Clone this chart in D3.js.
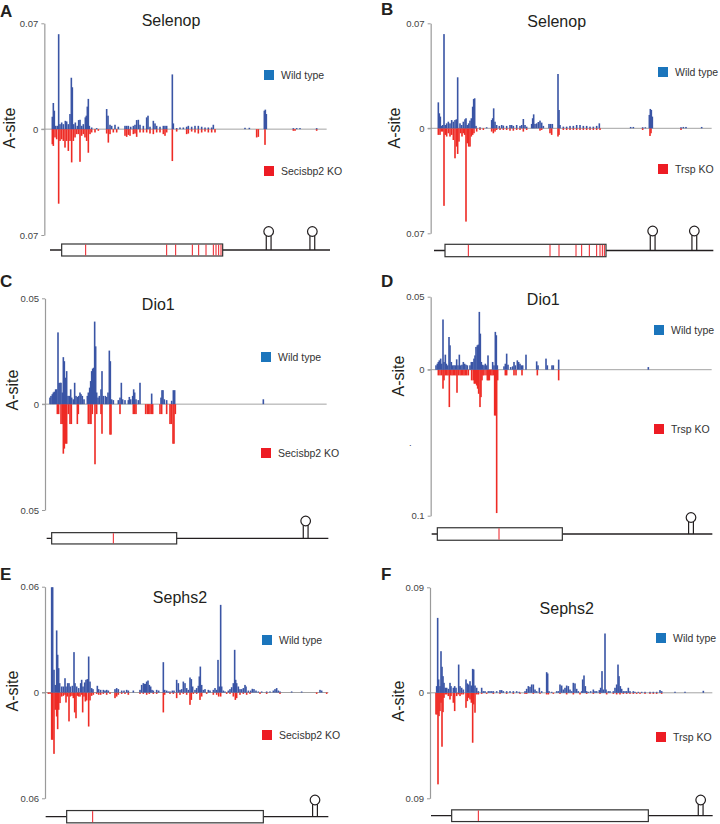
<!DOCTYPE html>
<html><head><meta charset="utf-8">
<script src="https://cdn.jsdelivr.net/npm/d3@7"></script>
<style>body{margin:0;background:#fff} svg{display:block;font-family:"Liberation Sans",Arial,Helvetica,sans-serif}</style>
</head><body><svg id="c" width="720" height="824"></svg>
<script>
// ---- Data: [position along transcript (a.u.), A-site value x 1e-3] ----
const A_WT = [[157,8.2],[160,17.3],[163,12.2],[167,2.2],[172,2.2],[176,62.8],[180,3.3],[185,4.4],[190,3.3],[196,5.5],[200,5.1],[205,3.3],[210,10],[214,34],[217,27.7],[221,3.3],[226,4.4],[232,2.2],[236,6],[240,6.2],[245,2.2],[250,3.3],[256,7.8],[259,8.9],[262,14.9],[265,20],[268,2.2],[275,1.1],[290,0.7],[320,13.3],[324,8.9],[330,2.9],[335,2.2],[345,2.9],[355,1.6],[375,2.2],[380,2.2],[385,2.2],[392,1.6],[400,2.2],[405,2.9],[410,6],[415,6.2],[420,2.9],[430,2.2],[440,7.8],[444,8.9],[450,1.6],[460,5.5],[465,3.8],[470,2.2],[480,1.6],[490,2.2],[495,2.2],[500,2.2],[517,36.2],[520,3.8],[530,0.7],[540,1.1],[550,1.1],[560,1.6],[565,2.2],[575,1.6],[585,2.2],[595,2.2],[605,1.6],[615,1.1],[625,1.1],[635,1.1],[640,2.9],[735,0.9],[748,0.9],[793,12.2],[796,12.9],[799,10],[880,0.5],[890,0.7],[900,0.7],[950,0.5]];
const A_KO = [[157,10],[160,11.1],[165,5.5],[170,6.7],[176,49.3],[180,7.8],[185,6.7],[190,7.8],[195,12.2],[200,7.8],[205,14.4],[210,7.8],[215,22],[220,7.8],[225,5.5],[230,3.3],[235,3.3],[240,21.6],[245,4.4],[250,3.3],[255,5.5],[260,7.8],[265,15.6],[270,3.3],[275,2.2],[285,2.2],[295,1.1],[320,2.9],[325,8.9],[330,3.3],[340,2.2],[350,2.2],[375,4.4],[380,5.1],[385,3.8],[390,4.4],[400,3.3],[405,2.9],[410,5.1],[420,2.2],[430,2.2],[440,2.2],[450,2.9],[460,3.3],[470,2.2],[480,2.2],[490,3.3],[495,4.4],[500,2.2],[517,21.1],[530,1.6],[560,3.3],[565,2.9],[575,1.6],[585,2.2],[595,2.9],[605,2.2],[615,1.6],[625,2.2],[635,2.2],[645,2.2],[770,5.5],[775,5.1],[795,10.4],[880,1.1],[885,1.1],[950,1.1]];

const B_WT = [[235,17.3],[238,10],[241,7.8],[244,1.6],[248,2.2],[252,62.8],[256,2.2],[260,3.3],[265,4.4],[270,3.3],[275,5.5],[280,4.4],[285,5.5],[289,6],[293,34],[300,3.3],[305,2.2],[310,4.4],[315,6],[318,6.7],[322,2.2],[326,3.3],[330,5.1],[334,6.7],[338,14.4],[341,19.5],[344,20],[348,1.6],[360,0.5],[380,0.7],[395,5.5],[398,6.7],[401,13.3],[405,4.4],[410,2.2],[418,1.6],[425,2.2],[430,1.8],[440,1.6],[450,2.2],[455,2.2],[460,1.6],[470,2.2],[480,1.6],[485,2.2],[490,6.2],[495,2.2],[500,1.1],[515,2.9],[518,6.7],[521,9.3],[525,2.9],[530,3.3],[535,4.2],[540,5.1],[545,3.8],[550,1.6],[567,2.9],[572,2.9],[577,2.9],[594,36.2],[597,12.2],[600,2.2],[610,1.1],[620,1.1],[630,1.6],[640,1.6],[650,2.2],[660,2.2],[670,1.6],[680,1.6],[690,1.1],[700,1.1],[710,1.6],[718,3.3],[812,0.9],[820,0.9],[848,0.7],[856,0.7],[868,8.9],[871,12.9],[874,12.2],[877,7.8],[963,0.7],[970,0.9],[978,0.9],[1025,0.9]];
const B_KO = [[235,4.4],[240,4.4],[244,2.2],[248,2.2],[252,51.7],[256,4.4],[260,5.5],[265,3.3],[270,5.5],[275,4.4],[280,7.8],[285,20],[290,12.2],[293,17.1],[297,8.9],[302,3.3],[306,5.5],[310,3.3],[314,4.4],[318,62.2],[322,10],[326,12.2],[330,12.2],[334,5.5],[338,4.4],[342,3.3],[350,2.2],[360,1.1],[370,1.1],[395,2.2],[400,3.3],[405,2.2],[410,1.1],[420,1.1],[430,1.1],[440,1.1],[450,1.6],[460,1.6],[470,1.1],[480,1.1],[490,2.2],[500,1.1],[540,1.6],[545,1.1],[570,3.3],[575,4.4],[594,5.5],[597,4.4],[610,1.1],[620,1.1],[630,1.1],[640,1.1],[650,1.1],[660,1.1],[670,1.1],[680,1.1],[690,1.1],[700,1.1],[710,1.1],[720,1.1],[848,1.1],[870,5.1],[873,3.3],[963,1.1]];

const C_WT = [[150,3.1],[153,3.9],[157,4.7],[160,5.5],[163,5.9],[167,7],[170,7],[174,33.9],[177,10],[180,10.1],[183,10.1],[187,5.5],[190,22.2],[193,20.3],[197,12.5],[200,15.6],[204,3.9],[208,3.9],[212,7],[215,3.1],[220,2.3],[224,10.1],[228,3.9],[232,3.4],[236,3.9],[240,5.5],[243,4.7],[247,3.9],[252,2.3],[262,3.9],[265,5.5],[269,7.8],[272,10.9],[275,15.6],[278,16.8],[281,17.2],[284,39],[287,27.3],[290,5.5],[294,3.1],[298,3.9],[303,7],[306,15.6],[310,3.9],[316,3.9],[320,3.4],[324,5.5],[328,25.3],[331,20.3],[335,2.3],[340,1.9],[355,1.9],[360,3.1],[364,10.1],[368,2.3],[375,1.9],[385,1.9],[388,3.4],[392,2.3],[398,3.9],[401,7],[404,5.5],[408,2.3],[415,1.9],[420,10.1],[455,5],[483,3.1],[486,6.6],[489,6.6],[493,2.3],[500,1.9],[515,1.6],[520,6.6],[524,6.6],[790,2.3]];
const C_KO = [[172,4.7],[176,4.7],[183,9.4],[187,9.4],[190,23.4],[193,21],[197,18.7],[200,18.7],[205,4.7],[210,9.4],[214,9.4],[232,9.4],[235,4.7],[265,9.4],[270,9.4],[273,9.4],[277,4.7],[285,28.4],[290,4.7],[303,4.7],[306,14],[330,14.4],[333,14.4],[360,4.7],[400,4.7],[404,4.7],[408,4.7],[437,4.7],[442,4.7],[446,4.7],[450,4.7],[455,4.7],[458,4.7],[480,4.7],[485,4.7],[500,4.7],[510,9.4],[514,9.4],[519,18.7],[522,18.7],[526,4.7]];

const D_WT = [[228,3],[232,4.1],[235,5.3],[238,6.4],[242,7.6],[245,4.1],[249,34.4],[252,5.3],[256,10.3],[259,4.1],[263,3],[267,22.4],[270,16.7],[274,5.3],[278,3],[282,3],[286,3],[290,7.1],[294,3],[298,10.3],[302,3],[306,3.4],[310,5.3],[314,4.1],[318,3.4],[322,3],[330,3],[334,5.3],[338,5.3],[342,7.6],[345,9.8],[348,15.6],[352,16.7],[355,17.2],[358,39.6],[361,24.7],[364,5.3],[368,3.4],[372,3],[376,4.1],[380,3],[384,9.8],[398,5.3],[402,3],[406,25.9],[409,23.6],[412,3],[432,2.3],[436,4.1],[440,11],[444,3.4],[452,1.8],[458,2.3],[462,5.3],[466,3],[472,6.4],[476,5.3],[480,4.1],[484,3],[488,3],[498,10.3],[530,5.7],[534,3],[558,7.6],[562,3],[576,3],[580,3],[596,6.9],[865,1.8]];
const D_KO = [[235,3.9],[240,3.9],[245,3.9],[249,13],[252,7.3],[256,3.9],[260,3.9],[264,3.9],[268,25.6],[272,3.9],[276,3.9],[280,3.9],[284,3.9],[288,3.9],[291,15.8],[295,3.9],[300,3.9],[304,3.9],[308,3.9],[312,3.9],[316,3.9],[320,3.9],[325,3.9],[335,7.3],[340,7.3],[343,9.6],[346,9.6],[350,10.8],[353,13],[356,16.5],[360,25.6],[363,18.8],[366,7.3],[369,3.9],[372,3.9],[378,3.9],[382,7.3],[385,7.3],[388,7.3],[392,3.9],[396,3.9],[400,3.9],[404,31.4],[407,31.4],[410,98.2],[413,7.3],[436,3.9],[440,3.9],[462,3.9],[468,3.9],[486,3.9],[532,3.9],[596,7.3]];

const E_WT = [[155,59.7],[158,59.7],[162,12.9],[166,4.3],[170,35.2],[173,21.4],[176,13.8],[179,5.3],[185,3.4],[190,3.4],[195,8.1],[198,3.4],[203,5.3],[207,5.3],[211,3.4],[217,3.8],[222,22.9],[225,5.3],[230,3.4],[236,2.5],[242,5.3],[245,7.2],[249,3.4],[254,5.7],[258,7.2],[262,7.6],[266,20.4],[270,6.2],[275,2.5],[279,1.9],[292,3.8],[296,1.9],[302,1.5],[310,1.5],[315,1.1],[320,1.5],[325,1.1],[345,1.9],[350,2.5],[355,1.9],[365,1.1],[372,1.1],[380,1.5],[385,1.1],[400,1.1],[420,1.5],[425,4.3],[430,5.3],[433,4.9],[437,4.9],[440,6.2],[444,6.8],[448,4.3],[452,3.4],[456,1.5],[460,1.1],[470,1.5],[476,1.1],[490,17.2],[494,1.5],[500,1.1],[505,0.6],[510,0.6],[517,1.1],[522,1.1],[530,7.2],[535,5.3],[540,1.5],[545,1.9],[550,6.2],[555,5.3],[560,2.5],[565,1.5],[570,8.5],[574,7.6],[578,3.4],[585,1.5],[590,2.5],[595,3.8],[598,9.1],[601,14.7],[605,4.3],[610,1.5],[615,1.9],[625,1.5],[630,1.1],[640,1.5],[645,2.5],[650,1.5],[654,18.5],[658,3.4],[662,49.7],[665,3.4],[670,1.1],[675,0.6],[685,1.1],[690,1.9],[695,3],[700,5.3],[704,24.2],[707,7.2],[710,5.3],[715,3.4],[720,1.9],[725,1.9],[730,2.5],[735,4.3],[738,3.4],[745,1.1],[752,1.1],[757,2.1],[762,1.9],[768,1.1],[775,0.6],[785,0.6],[800,0.6],[810,0.6],[820,1.1],[825,1.9],[830,2.5],[835,1.1],[840,0.6],[875,0.6],[905,0.4],[960,1.5],[965,1.1]];
const E_KO = [[145,0.8],[150,0.8],[155,26.8],[158,26.8],[162,34.8],[166,9.8],[170,13.6],[173,20.8],[176,9.8],[180,6],[185,2.3],[190,1.9],[195,1.3],[198,5.7],[202,2.3],[207,16.4],[211,2.3],[216,1.9],[220,3.2],[224,11.3],[228,14.6],[232,1.9],[236,2.3],[240,2.3],[245,1.3],[248,11.3],[252,2.3],[256,5.1],[260,4.5],[266,19.3],[270,4.5],[275,1.9],[280,1.3],[290,0.8],[296,1.3],[302,1.3],[310,0.8],[320,1.3],[330,0.8],[345,3.2],[350,2.3],[355,1.3],[365,0.8],[375,0.8],[385,1.3],[420,0.8],[430,0.8],[440,1.3],[448,0.8],[460,0.8],[470,0.8],[490,11.3],[494,1.3],[510,0.8],[520,0.8],[530,3.2],[540,1.3],[550,0.8],[560,1.3],[570,7],[574,4.2],[580,0.8],[590,0.8],[600,4.2],[605,2.3],[620,0.8],[640,1.3],[650,1.3],[656,2.3],[662,2.3],[680,0.8],[690,0.8],[700,2.3],[706,4.2],[710,3.2],[720,1.3],[730,0.8],[740,1.3],[750,0.8],[780,0.8],[800,0.8],[840,0.8],[950,0.8],[980,0.8]];

const F_WT = [[230,5.7],[233,63.9],[236,11.4],[240,5.7],[243,35.5],[246,22.2],[249,14.2],[252,8.5],[256,4.3],[260,4.3],[265,3.4],[270,8.5],[273,5.7],[280,4.3],[284,5.7],[288,4.3],[296,24.1],[300,5.7],[305,4.3],[310,2.8],[318,11.4],[322,8],[326,7.1],[330,9.9],[334,6.2],[338,20.4],[341,19.9],[345,6.2],[350,4.3],[355,1.4],[365,4.3],[370,1.4],[375,1.4],[385,1.4],[390,1.4],[395,1.4],[400,1.4],[410,1.4],[420,2.3],[425,2.3],[430,1.4],[440,1.4],[450,1.4],[460,1.4],[470,1.4],[478,0.9],[495,1.4],[500,3.4],[505,5.7],[510,5.1],[515,7.1],[520,7.1],[525,2.8],[530,1.4],[538,4.3],[545,1.4],[560,17.6],[563,16.5],[567,1.4],[575,0.6],[590,1.4],[595,1.4],[600,7.1],[605,6.2],[610,2.8],[615,4.3],[620,6.2],[625,5.7],[630,2.8],[635,1.4],[640,8.5],[645,8],[650,3.4],[655,1.4],[665,1.4],[668,11.4],[672,14.8],[676,5.7],[680,1.4],[685,0.6],[692,1.4],[700,2.8],[705,1.4],[710,1.4],[718,2.3],[722,4.3],[726,18.5],[730,2.8],[735,50.6],[738,2.8],[745,1.4],[750,1.4],[760,1.4],[765,4.3],[770,7.1],[774,24.1],[777,14.2],[781,5.7],[785,3.4],[790,1.4],[795,1.4],[800,1.4],[805,4.3],[810,1.4],[820,1.4],[825,0.6],[835,0.6],[845,0.6],[855,0.6],[870,0.6],[880,0.6],[890,0.6],[900,2.3],[905,1.4],[945,0.9],[975,0.9],[1030,1.7]];
const F_KO = [[228,18.5],[231,18.5],[234,78.1],[237,19.9],[240,15.6],[243,8.5],[246,46],[249,16.5],[252,4.3],[256,1.4],[260,1.4],[265,2.8],[270,5.7],[273,2.8],[280,8.5],[284,15.6],[290,2.8],[295,1.4],[300,2.8],[305,1.4],[310,1.4],[318,12.8],[322,7.1],[326,4.3],[330,5.7],[334,8.5],[338,42.6],[341,9.9],[345,17],[350,1.4],[355,1.4],[365,0.9],[380,0.9],[400,0.9],[420,0.9],[440,0.9],[460,0.9],[480,0.9],[495,0.9],[500,0.9],[520,0.9],[540,0.9],[560,1.4],[565,1.4],[580,0.9],[600,0.9],[620,1.4],[640,1.4],[660,1.4],[680,0.9],[700,0.9],[720,0.9],[740,1.4],[760,0.9],[770,1.4],[780,1.4],[790,0.9],[800,0.9],[810,0.9],[820,0.9],[830,0.9],[840,0.9],[855,0.9],[870,0.9],[880,0.9],[890,0.9],[905,0.9]];

// tick values and labels
const A_TICKS = [0.07, 0, -0.07], A_LABELS = ["0.07", "0", "0.07"];
const B_TICKS = [0.07, 0, -0.07], B_LABELS = ["0.07", "0", "0.07"];
const C_TICKS = [0.05, 0, -0.05], C_LABELS = ["0.05", "0", "0.05"];
const D_TICKS = [0.05, 0, -0.05, -0.1], D_LABELS = ["0.05", "0", ".", "0.1"];
const E_TICKS = [0.06, 0, -0.06], E_LABELS = ["0.06", "0", "0.06"];
const F_TICKS = [0.09, 0, -0.09], F_LABELS = ["0.09", "0", "0.09"];

// gene models: [transcript start, CDS start, CDS end, transcript end]
const A_GENE = [150, 185, 668, 990], A_SEC = [257,500,527,577,596,618,640,648,656,663], A_SECIS = [806, 937];
const B_GENE = [222, 255, 738, 1060], B_SEC = [325,570,597,648,665,688,710,720,727,733], B_SECIS = [878, 1003];
const C_GENE = [140, 155, 530, 985], C_SEC = [340], C_SECIS = [917];
const D_GENE = [215, 232, 607, 1057], D_SEC = [417], D_SECIS = [993];
const E_GENE = [137, 200, 790, 985], E_SEC = [278], E_SECIS = [945];
const F_GENE = [213, 275, 865, 1058], F_SEC = [355], F_SECIS = [1022];

const TITLES = ["Selenop", "Selenop", "Dio1", "Dio1", "Sephs2", "Sephs2"];
const LETTERS = ["A", "B", "C", "D", "E", "F"];
const KO_NAMES = ["Secisbp2 KO", "Trsp KO", "Secisbp2 KO", "Trsp KO", "Secisbp2 KO", "Trsp KO"];

// ---- Layout ----
const panels = [
  {wt:A_WT, ko:A_KO, ticks:A_TICKS, labels:A_LABELS, gene:A_GENE, sec:A_SEC, secis:A_SECIS,
   ox:0, x0:133, x1:980, ymin:-0.07, ymax:0.07, yTop:23.3, yBot:235, title:[171,26], letter:[0,17], ylab:[15,128],
   leg:[264,70,166], geneY:250, boxH:12, loopY:231.5},
  {wt:B_WT, ko:B_KO, ticks:B_TICKS, labels:B_LABELS, gene:B_GENE, sec:B_SEC, secis:B_SECIS,
   ox:360, x0:212, x1:1055, ymin:-0.07, ymax:0.07, yTop:23.3, yBot:233.3, title:[556.7,27], letter:[381,15], ylab:[400,128],
   leg:[658,67,164], geneY:250.5, boxH:12.4, loopY:231},
  {wt:C_WT, ko:C_KO, ticks:C_TICKS, labels:C_LABELS, gene:C_GENE, sec:C_SEC, secis:C_SECIS,
   ox:0, x0:135, x1:980, ymin:-0.05, ymax:0.05, yTop:298.3, yBot:510, title:[158.3,310], letter:[0,287], ylab:[18,390],
   leg:[261,352,448], geneY:538.3, boxH:11.3, loopY:521},
  {wt:D_WT, ko:D_KO, ticks:D_TICKS, labels:D_LABELS, gene:D_GENE, sec:D_SEC, secis:D_SECIS,
   ox:360, x0:212, x1:1055, ymin:-0.1, ymax:0.05, yTop:296.7, yBot:515.7, title:[543.3,305], letter:[381,287], ylab:[404,376],
   leg:[654,325,424], geneY:534, boxH:12.5, loopY:517.5},
  {wt:E_WT, ko:E_KO, ticks:E_TICKS, labels:E_LABELS, gene:E_GENE, sec:E_SEC, secis:E_SECIS,
   ox:0, x0:135, x1:985, ymin:-0.06, ymax:0.06, yTop:586.7, yBot:798.3, title:[180,603], letter:[0,580], ylab:[18,691],
   leg:[262,635,730], geneY:816.7, boxH:12.3, loopY:800},
  {wt:F_WT, ko:F_KO, ticks:F_TICKS, labels:F_LABELS, gene:F_GENE, sec:F_SEC, secis:F_SECIS,
   ox:360, x0:210, x1:1057, ymin:-0.09, ymax:0.09, yTop:587.3, yBot:798.3, title:[566.7,614], letter:[381,580], ylab:[404,701],
   leg:[656,633,732], geneY:815.7, boxH:11.7, loopY:800}
];

const BLUE = "#3a55a5", RED = "#ee2b25", LEG_BLUE = "#1b75bc", LEG_RED = "#ed1c24";
const svg = d3.select("#c");

panels.forEach((p, i) => {
  const g = svg.append("g");
  const x = d3.scaleLinear().domain([p.x0, p.x1]).range([p.ox + p.x0 / 3, p.ox + p.x1 / 3]);
  const y = d3.scaleLinear().domain([p.ymin, p.ymax]).range([p.yBot, p.yTop]);
  const ax = x(p.x0);

  // zero line
  g.append("line").attr("x1", ax - 3).attr("x2", x(p.x1)).attr("y1", y(0)).attr("y2", y(0))
    .attr("stroke", "#a3a3a3").attr("stroke-width", 1);

  const wt = p.wt.map(d => [d[0], d[1] / 1000]);
  const ko = p.ko.map(d => [d[0], d[1] / 1000]);
  const bw = 1.6;
  g.append("g").selectAll("rect").data(ko).join("rect")
    .attr("x", d => x(d[0]) - bw / 2).attr("width", bw)
    .attr("y", y(0)).attr("height", d => Math.max(1, y(-d[1]) - y(0)))
    .attr("fill", RED);
  g.append("g").selectAll("rect").data(wt).join("rect")
    .attr("x", d => x(d[0]) - bw / 2).attr("width", bw)
    .attr("y", d => Math.min(y(d[1]), y(0) - 1)).attr("height", d => Math.max(1, y(0) - y(d[1])))
    .attr("fill", BLUE);

  // y axis
  const axis = d3.axisLeft(y).tickValues(p.ticks).tickFormat((d, k) => p.labels[k]).tickSize(3).tickSizeOuter(0).tickPadding(3);
  const ag = g.append("g").attr("transform", `translate(${ax},0)`).call(axis);
  ag.select(".domain").attr("stroke", "#9a9a9a").attr("stroke-width", 1.2);
  ag.selectAll(".tick line").attr("stroke", "#9a9a9a").attr("stroke-width", 1)
    .filter((d, k) => p.labels[k] === ".").remove();
  ag.selectAll(".tick text").attr("font-size", 9.5).attr("fill", "#444")
    .attr("font-family", '"Liberation Sans",Arial,sans-serif')
    .filter((d, k) => p.labels[k] === ".").attr("dx", -13);

  // labels
  g.append("text").attr("x", p.letter[0]).attr("y", p.letter[1]).text(LETTERS[i])
    .attr("font-size", 17).attr("font-weight", "bold").attr("fill", "#231f20");
  g.append("text").attr("x", p.title[0]).attr("y", p.title[1]).text(TITLES[i])
    .attr("text-anchor", "middle").attr("font-size", 16).attr("fill", "#231f20");
  g.append("text").attr("transform", `translate(${p.ylab[0]},${p.ylab[1]}) rotate(-90)`).text("A-site")
    .attr("text-anchor", "middle").attr("font-size", 16).attr("fill", "#231f20");

  // legend
  const lg = g.append("g");
  [[LEG_BLUE, "Wild type", p.leg[1]], [LEG_RED, KO_NAMES[i], p.leg[2]]].forEach(([c, t, yy]) => {
    lg.append("rect").attr("x", p.leg[0]).attr("y", yy).attr("width", 10).attr("height", 10).attr("fill", c);
    lg.append("text").attr("x", p.leg[0] + 17).attr("y", yy + 5).attr("dy", "0.35em").text(t)
      .attr("font-size", 10.5).attr("fill", "#333");
  });

  // gene model
  const gm = g.append("g");
  const gy = p.geneY, [t0, c0, c1, t1] = p.gene;
  gm.append("line").attr("x1", x(t0)).attr("x2", x(t1)).attr("y1", gy).attr("y2", gy)
    .attr("stroke", "#231f20").attr("stroke-width", 1.3);
  gm.append("rect").attr("x", x(c0)).attr("y", gy - p.boxH / 2).attr("width", x(c1) - x(c0)).attr("height", p.boxH)
    .attr("fill", "#fff").attr("stroke", "#333").attr("stroke-width", 1.2);
  gm.selectAll("line.sec").data(p.sec).join("line").attr("class", "sec")
    .attr("x1", d => x(d)).attr("x2", d => x(d)).attr("y1", gy - p.boxH / 2 + 0.6).attr("y2", gy + p.boxH / 2 - 0.6)
    .attr("stroke", LEG_RED).attr("stroke-width", 1);
  p.secis.forEach(s => {
    const cx = x(s), r = 4.8, cy = p.loopY;
    const yb = cy + r * 0.85;
    gm.append("path").attr("d", `M${cx - 2.4},${gy} L${cx - 2.4},${yb} M${cx + 2.4},${gy} L${cx + 2.4},${yb}`)
      .attr("stroke", "#231f20").attr("stroke-width", 1.2).attr("fill", "none");
    gm.append("circle").attr("cx", cx).attr("cy", cy).attr("r", r)
      .attr("fill", "#fff").attr("stroke", "#231f20").attr("stroke-width", 1.2);
  });
});
</script>
</body></html>
